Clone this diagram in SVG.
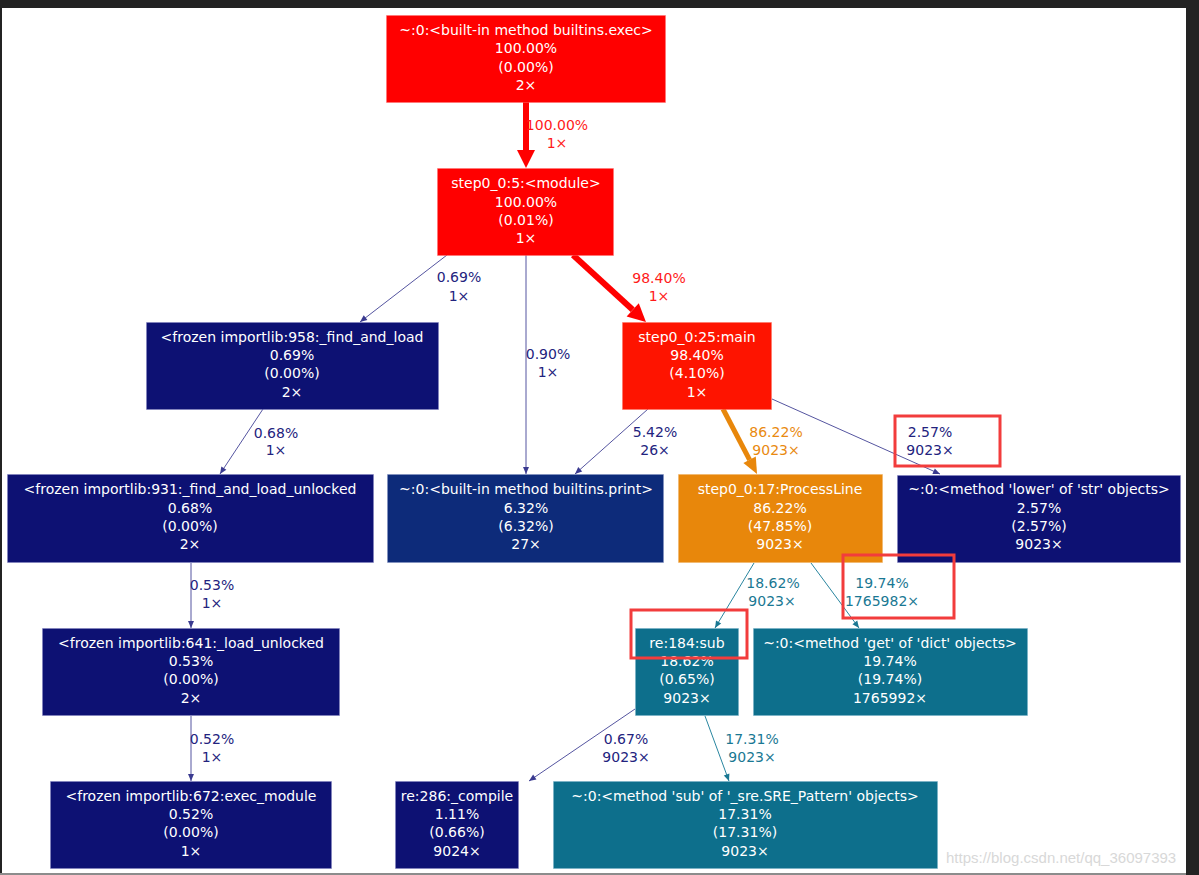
<svg xmlns="http://www.w3.org/2000/svg" width="1199" height="875" viewBox="0 0 1199 875">
<style>
  text { font-family: "DejaVu Sans", Verdana, sans-serif; font-size: 14px; text-anchor: middle; }
  .nt { fill: #ffffff; }
  .lr { fill: #ff1a1a; }
  .lo { fill: #e98a10; }
  .ln { fill: #23237e; }
  .lt { fill: #1a7893; }
  .en { stroke: #5555a0; stroke-width: 1; fill: none; }
  .et { stroke: #2a86a0; stroke-width: 1; fill: none; }
  .box { stroke-opacity: 0.45; stroke-width: 1; }
  .red { fill: #ff0000; stroke: #ff7070; }
  .main { fill: #fe1400; stroke: #ff7060; }
  .org { fill: #e8870b; stroke: #f0b060; }
  .navy { fill: #0d1173; stroke: #8080c0; }
  .blue { fill: #0d2b7a; stroke: #8090c0; }
  .teal { fill: #0d6f8c; stroke: #70b0c8; }
  .mark { fill: none; stroke: #f23c3c; stroke-width: 3; }
</style>
<defs>
  <marker id="an" markerUnits="userSpaceOnUse" markerWidth="10" markerHeight="10" viewBox="0 -5 8 10" refX="7" refY="0" orient="auto" overflow="visible">
    <path d="M0,-3 L7,0 L0,3 z" fill="#3a3a90"/>
  </marker>
  <marker id="at" markerUnits="userSpaceOnUse" markerWidth="10" markerHeight="10" viewBox="0 -5 8 10" refX="7" refY="0" orient="auto" overflow="visible">
    <path d="M0,-3 L7,0 L0,3 z" fill="#1a7893"/>
  </marker>
  <marker id="ar" markerUnits="userSpaceOnUse" markerWidth="20" markerHeight="20" viewBox="0 -10 20 20" refX="0" refY="0" orient="auto" overflow="visible">
    <path d="M0,-9 L18,0 L0,9 z" fill="#ff0000"/>
  </marker>
  <marker id="ao" markerUnits="userSpaceOnUse" markerWidth="20" markerHeight="20" viewBox="0 -10 20 20" refX="0" refY="0" orient="auto" overflow="visible">
    <path d="M0,-7 L16,0 L0,7 z" fill="#e8870b"/>
  </marker>
</defs>
<rect x="0" y="0" width="1199" height="875" fill="#ffffff"/>

<g id="connectors">
  <line x1="526" y1="102" x2="526" y2="150" stroke="#ff0000" stroke-width="6" marker-end="url(#ar)"/>
  <text class="lr" x="557" y="130">100.00%</text><text class="lr" x="557" y="148">1×</text>

  <line x1="573" y1="255" x2="632.7" y2="309.8" stroke="#ff0000" stroke-width="6" marker-end="url(#ar)"/>
  <text class="lr" x="659" y="283">98.40%</text><text class="lr" x="659" y="301">1×</text>

  <line class="en" x1="447" y1="255" x2="360" y2="322" marker-end="url(#an)"/>
  <text class="ln" x="459" y="282">0.69%</text><text class="ln" x="459" y="301">1×</text>

  <line class="en" x1="526" y1="255" x2="526" y2="474" marker-end="url(#an)"/>
  <text class="ln" x="548" y="359">0.90%</text><text class="ln" x="548" y="377">1×</text>

  <line class="en" x1="263" y1="409" x2="220" y2="474" marker-end="url(#an)"/>
  <text class="ln" x="276" y="438">0.68%</text><text class="ln" x="276" y="455">1×</text>

  <line class="en" x1="191" y1="563" x2="191" y2="628" marker-end="url(#an)"/>
  <text class="ln" x="212" y="590">0.53%</text><text class="ln" x="212" y="608">1×</text>

  <line class="en" x1="191" y1="716" x2="191" y2="781" marker-end="url(#an)"/>
  <text class="ln" x="212" y="744">0.52%</text><text class="ln" x="212" y="762">1×</text>

  <line class="en" x1="648" y1="409" x2="575" y2="474" marker-end="url(#an)"/>
  <text class="ln" x="655" y="437">5.42%</text><text class="ln" x="655" y="455">26×</text>

  <line x1="723" y1="409" x2="749.6" y2="459.8" stroke="#e8870b" stroke-width="5" marker-end="url(#ao)"/>
  <text class="lo" x="776" y="437">86.22%</text><text class="lo" x="776" y="455">9023×</text>

  <line class="en" x1="772" y1="399" x2="940" y2="474" marker-end="url(#an)"/>
  <text class="ln" x="930" y="437">2.57%</text><text class="ln" x="930" y="455">9023×</text>

  <line class="et" x1="754" y1="563" x2="715" y2="628" marker-end="url(#at)"/>
  <text class="lt" x="773" y="588">18.62%</text><text class="lt" x="772" y="606">9023×</text>

  <line class="et" x1="811" y1="563" x2="859" y2="628" marker-end="url(#at)"/>
  <text class="lt" x="882" y="588">19.74%</text><text class="lt" x="882" y="606">1765982×</text>

  <line class="en" x1="635" y1="709" x2="529" y2="781" marker-end="url(#an)"/>
  <text class="ln" x="626" y="744">0.67%</text><text class="ln" x="626" y="762">9023×</text>

  <line class="et" x1="705" y1="716" x2="729" y2="781" marker-end="url(#at)"/>
  <text class="lt" x="752" y="744">17.31%</text><text class="lt" x="752" y="762">9023×</text>
</g>

<g id="n-exec">
  <rect class="box red" x="386.5" y="15.5" width="279" height="87"/>
  <text class="nt" x="526" y="35">~:0:&lt;built-in method builtins.exec&gt;</text>
  <text class="nt" x="526" y="53">100.00%</text>
  <text class="nt" x="526" y="72">(0.00%)</text>
  <text class="nt" x="526" y="90">2×</text>
</g>
<g id="n-module">
  <rect class="box red" x="437.5" y="168.5" width="176" height="87"/>
  <text class="nt" x="526" y="188">step0_0:5:&lt;module&gt;</text>
  <text class="nt" x="526" y="207">100.00%</text>
  <text class="nt" x="526" y="225">(0.01%)</text>
  <text class="nt" x="526" y="243">1×</text>
</g>
<g id="n-find-and-load">
  <rect class="box navy" x="146.5" y="322.5" width="292" height="87"/>
  <text class="nt" x="292" y="342">&lt;frozen importlib:958:_find_and_load</text>
  <text class="nt" x="292" y="360">0.69%</text>
  <text class="nt" x="292" y="378">(0.00%)</text>
  <text class="nt" x="292" y="397">2×</text>
</g>
<g id="n-main">
  <rect class="box main" x="622.5" y="322.5" width="149" height="87"/>
  <text class="nt" x="697" y="342">step0_0:25:main</text>
  <text class="nt" x="697" y="360">98.40%</text>
  <text class="nt" x="697" y="378">(4.10%)</text>
  <text class="nt" x="697" y="397">1×</text>
</g>
<g id="n-find-unlocked">
  <rect class="box navy" x="7.5" y="474.5" width="366" height="88"/>
  <text class="nt" x="190" y="494">&lt;frozen importlib:931:_find_and_load_unlocked</text>
  <text class="nt" x="190" y="513">0.68%</text>
  <text class="nt" x="190" y="531">(0.00%)</text>
  <text class="nt" x="190" y="549">2×</text>
</g>
<g id="n-print">
  <rect class="box blue" x="387.5" y="474.5" width="276" height="88"/>
  <text class="nt" x="526" y="494">~:0:&lt;built-in method builtins.print&gt;</text>
  <text class="nt" x="526" y="513">6.32%</text>
  <text class="nt" x="526" y="531">(6.32%)</text>
  <text class="nt" x="526" y="549">27×</text>
</g>
<g id="n-processline">
  <rect class="box org" x="678.5" y="474.5" width="204" height="88"/>
  <text class="nt" x="780" y="494">step0_0:17:ProcessLine</text>
  <text class="nt" x="780" y="513">86.22%</text>
  <text class="nt" x="780" y="531">(47.85%)</text>
  <text class="nt" x="780" y="549">9023×</text>
</g>
<g id="n-lower">
  <rect class="box navy" x="897.5" y="475.5" width="283" height="87"/>
  <text class="nt" x="1039" y="494">~:0:&lt;method 'lower' of 'str' objects&gt;</text>
  <text class="nt" x="1039" y="513">2.57%</text>
  <text class="nt" x="1039" y="531">(2.57%)</text>
  <text class="nt" x="1039" y="549">9023×</text>
</g>
<g id="n-load-unlocked">
  <rect class="box navy" x="42.5" y="628.5" width="297" height="87"/>
  <text class="nt" x="191" y="648">&lt;frozen importlib:641:_load_unlocked</text>
  <text class="nt" x="191" y="666">0.53%</text>
  <text class="nt" x="191" y="684">(0.00%)</text>
  <text class="nt" x="191" y="703">2×</text>
</g>
<g id="n-sub">
  <rect class="box teal" x="635.5" y="628.5" width="103" height="87"/>
  <text class="nt" x="687" y="648">re:184:sub</text>
  <text class="nt" x="687" y="666">18.62%</text>
  <text class="nt" x="687" y="684">(0.65%)</text>
  <text class="nt" x="687" y="703">9023×</text>
</g>
<g id="n-get">
  <rect class="box teal" x="753.5" y="628.5" width="274" height="87"/>
  <text class="nt" x="890" y="648">~:0:&lt;method 'get' of 'dict' objects&gt;</text>
  <text class="nt" x="890" y="666">19.74%</text>
  <text class="nt" x="890" y="684">(19.74%)</text>
  <text class="nt" x="890" y="703">1765992×</text>
</g>
<g id="n-exec-module">
  <rect class="box navy" x="50.5" y="781.5" width="281" height="87"/>
  <text class="nt" x="191" y="801">&lt;frozen importlib:672:exec_module</text>
  <text class="nt" x="191" y="819">0.52%</text>
  <text class="nt" x="191" y="837">(0.00%)</text>
  <text class="nt" x="191" y="856">1×</text>
</g>
<g id="n-compile">
  <rect class="box navy" x="395.5" y="781.5" width="123" height="87"/>
  <text class="nt" x="457" y="801">re:286:_compile</text>
  <text class="nt" x="457" y="819">1.11%</text>
  <text class="nt" x="457" y="837">(0.66%)</text>
  <text class="nt" x="457" y="856">9024×</text>
</g>
<g id="n-sre">
  <rect class="box teal" x="553.5" y="781.5" width="384" height="87"/>
  <text class="nt" x="745" y="801">~:0:&lt;method 'sub' of '_sre.SRE_Pattern' objects&gt;</text>
  <text class="nt" x="745" y="819">17.31%</text>
  <text class="nt" x="745" y="837">(17.31%)</text>
  <text class="nt" x="745" y="856">9023×</text>
</g>

<g id="annotations">
  <rect class="mark" x="895" y="416" width="105" height="50"/>
  <rect class="mark" x="843" y="555" width="111" height="63"/>
  <rect class="mark" x="631" y="610" width="116" height="48"/>
</g>

<text x="946" y="863" style="font-family:'Liberation Sans',Arial,sans-serif;text-anchor:start;font-size:15px;fill:#d8d8d8">https://blog.csdn.net/qq_36097393</text>

<g id="frame">
  <rect x="0" y="0" width="1199" height="8" fill="#232323"/>
  <rect x="0" y="0" width="2" height="875" fill="#232323"/>
  <rect x="1186" y="0" width="13" height="875" fill="#232323"/>
  <rect x="0" y="873" width="1186" height="2" fill="#8c8c8c"/>
</g>
</svg>
